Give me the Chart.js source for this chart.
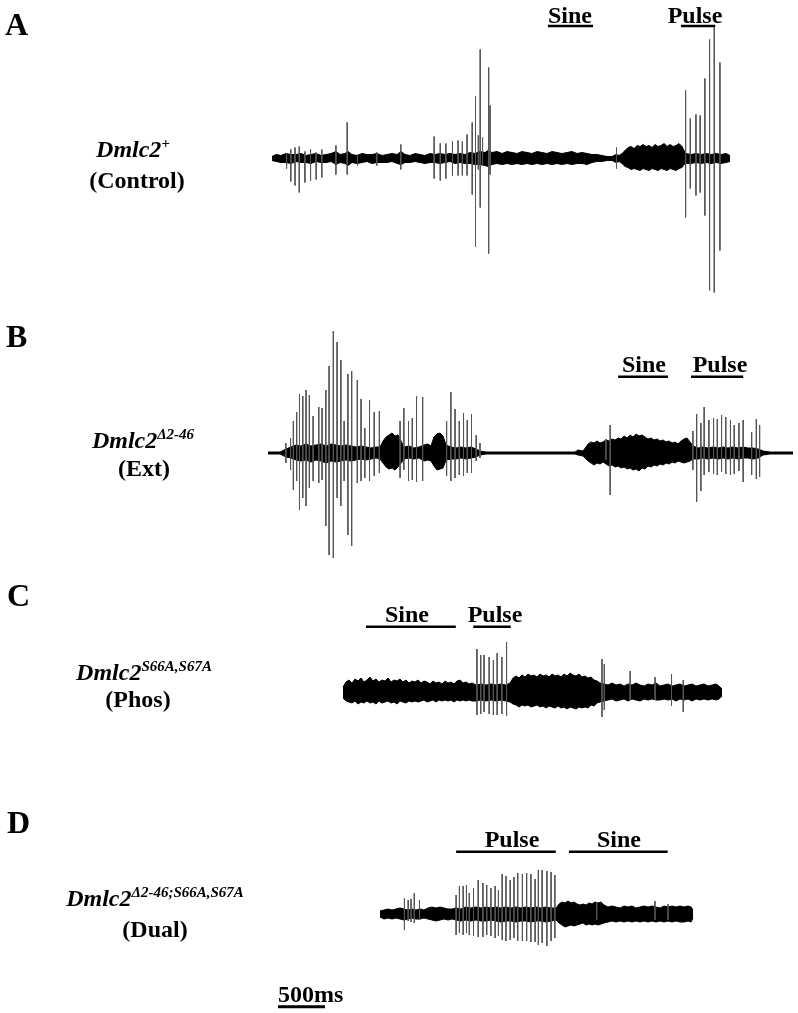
<!DOCTYPE html>
<html>
<head>
<meta charset="utf-8">
<script src="https://cdn.jsdelivr.net/npm/chart.js@4.4.0/dist/chart.umd.min.js"></script>
<style>
    body { margin: 0; background: #fff; }
    #page { position: relative; width: 798px; height: 1013px; overflow: hidden;
            font-family: "Liberation Serif", "Times New Roman", serif; font-weight: bold; color: #000; }
    canvas { position: absolute; left: 0; }
    .t { position: absolute; font-size: 24px; line-height: 24px; white-space: nowrap; }
    .c { width: 300px; text-align: center; }
    .letter { position: absolute; font-size: 32px; line-height: 32px; }
    sup { font-size: 15px; line-height: 0; vertical-align: 9px; }
</style>
</head>
<body>
<div id="page">
    <canvas id="chartA" width="798" height="320" style="top:0px"></canvas>
    <canvas id="chartB" width="798" height="250" style="top:320px"></canvas>
    <canvas id="chartC" width="798" height="220" style="top:570px"></canvas>
    <canvas id="chartD" width="798" height="223" style="top:790px"></canvas>

    <div class="letter" style="left:5px;top:8px">A</div>
    <div class="letter" style="left:6px;top:320px">B</div>
    <div class="letter" style="left:7px;top:579px">C</div>
    <div class="letter" style="left:7px;top:806px">D</div>

    <div class="t c" style="left:-17px;top:137px"><i>Dmlc2</i><sup>+</sup></div>
    <div class="t c" style="left:-13px;top:168px">(Control)</div>
    <div class="t c" style="left:-7px;top:428px"><i>Dmlc2<sup>Δ2-46</sup></i></div>
    <div class="t c" style="left:-6px;top:456px">(Ext)</div>
    <div class="t c" style="left:-6px;top:660px"><i>Dmlc2<sup>S66A,S67A</sup></i></div>
    <div class="t c" style="left:-12px;top:687px">(Phos)</div>
    <div class="t c" style="left:5px;top:886px"><i>Dmlc2<sup>Δ2-46;S66A,S67A</sup></i></div>
    <div class="t c" style="left:5px;top:917px">(Dual)</div>

    <div class="t c" style="left:420px;top:3px">Sine</div>
    <div class="t c" style="left:545px;top:3px">Pulse</div>
    <div class="t c" style="left:494px;top:352px">Sine</div>
    <div class="t c" style="left:570px;top:352px">Pulse</div>
    <div class="t c" style="left:257px;top:602px">Sine</div>
    <div class="t c" style="left:345px;top:602px">Pulse</div>
    <div class="t c" style="left:362px;top:827px">Pulse</div>
    <div class="t c" style="left:469px;top:827px">Sine</div>

    <div class="t" style="left:278px;top:982px">500ms</div>
</div>

<script>
// time in ms from the start of each recording, amplitude in arbitrary units

// A: Dmlc2+ (Control)
const spikeTimesA = [155, 200, 245, 290, 350, 410, 470, 530, 680, 800, 910, 1115, 1370, 1725, 1790, 1850, 1920, 1980, 2025, 2075, 2130, 2165, 2195, 2215, 2240, 2305, 2320, 3665, 4400, 4450, 4510, 4555, 4605, 4655, 4705, 4765];
const spikeTopsA = [5, 9, 11, 12, 7, 9, 6, 9, 13, 36, 4, 6, 14, 22, 15, 15, 17, 18, 17, 24, 36, 62, 23, 109, 21, 91, 53, 11, 68, 40, 44, 43, 80, 119, 131, 96];
const spikeBottomsA = [-10, -23, -27, -34, -24, -22, -21, -19, -16, -16, -7, -7, -11, -20, -22, -20, -17, -17, -17, -17, -36, -88, -11, -49, -7, -95, -16, -10, -59, -30, -37, -34, -57, -132, -134, -92];
const envTimesA = [
    0, 43, 96, 149, 202, 255, 309, 362, 415, 468,
    521, 575, 628, 681, 724, 777, 809, 851, 904, 958,
    1011, 1064, 1117, 1170, 1224, 1277, 1330, 1373, 1415, 1468,
    1522, 1575, 1628, 1681, 1734, 1788, 1841, 1894, 1947, 2000,
    2054, 2107, 2160, 2213, 2266, 2298, 2341, 2394, 2447, 2500,
    2554, 2607, 2660, 2713, 2766, 2820, 2873, 2926, 2979, 3032,
    3086, 3139, 3192, 3245, 3298, 3352, 3405, 3458, 3511, 3564,
    3618, 3660, 3692, 3724, 3756, 3788, 3820, 3852, 3884, 3916,
    3947, 3979, 4011, 4043, 4075, 4107, 4139, 4171, 4203, 4235,
    4267, 4299, 4330, 4362, 4384, 4405, 4458, 4511, 4565, 4618,
    4671, 4724, 4777, 4830, 4873];
const envUpperA = [
    2, 4, 3, 5, 4, 4, 5, 3, 4, 5,
    3, 4, 5, 7, 4, 5, 7, 4, 3, 5,
    4, 4, 5, 3, 4, 5, 4, 7, 4, 3,
    5, 4, 3, 5, 4, 5, 4, 5, 4, 5,
    4, 6, 5, 7, 6, 8, 6, 7, 5, 7,
    6, 5, 7, 6, 5, 7, 6, 5, 7, 6,
    5, 6, 7, 5, 6, 5, 4, 4, 3, 2,
    2, 4, 3, 5, 8, 11, 12, 10, 13, 12,
    14, 12, 13, 11, 14, 12, 13, 15, 12, 14,
    12, 13, 15, 12, 8, 5, 4, 5, 4, 5,
    4, 5, 4, 5, 3];
const envLowerA = [
    -2, -3, -4, -4, -5, -3, -4, -4, -5, -3,
    -4, -4, -3, -6, -4, -5, -7, -4, -5, -4,
    -3, -5, -4, -4, -4, -3, -5, -6, -4, -4,
    -3, -4, -5, -4, -4, -5, -4, -3, -5, -4,
    -5, -5, -6, -6, -7, -8, -6, -5, -6, -5,
    -6, -5, -6, -5, -6, -5, -6, -5, -6, -5,
    -6, -5, -6, -5, -5, -6, -4, -3, -3, -2,
    -2, -4, -3, -5, -8, -9, -11, -10, -11, -12,
    -10, -11, -12, -10, -11, -12, -10, -11, -12, -10,
    -11, -12, -10, -9, -6, -5, -5, -4, -5, -4,
    -5, -4, -5, -4, -3];
const sineA = [2935, 3415];
const pulseA = [4350, 4715];

// B: Dmlc2 d2-46 (Ext)
const spikeTimesB = [190, 240, 270, 305, 335, 370, 405, 440, 480, 540, 575, 615, 650, 695, 735, 775, 810, 850, 890, 950, 990, 1030, 1080, 1130, 1185, 1405, 1445, 1495, 1535, 1580, 1645, 1900, 1945, 1990, 2035, 2080, 2120, 2165, 2215, 2255, 3595, 3640, 4520, 4560, 4605, 4640, 4690, 4740, 4780, 4825, 4870, 4920, 4960, 5010, 5055, 5145, 5195, 5230];
const spikeTopsB = [10, 15, 32, 41, 59, 57, 63, 58, 37, 46, 45, 63, 87, 122, 111, 93, 32, 79, 82, 73, 54, 25, 53, 41, 42, 32, 45, 32, 35, 57, 56, 32, 61, 44, 32, 40, 33, 39, 18, 10, 14, 28, 22, 39, 30, 46, 33, 35, 34, 38, 36, 33, 28, 30, 33, 21, 34, 28];
const spikeBottomsB = [-10, -17, -37, -28, -57, -45, -53, -35, -28, -30, -27, -73, -102, -105, -45, -53, -28, -82, -93, -30, -28, -25, -28, -23, -20, -25, -17, -28, -27, -29, -28, -23, -28, -25, -22, -23, -20, -20, -8, -5, -7, -42, -17, -49, -38, -22, -19, -21, -22, -19, -21, -22, -21, -18, -29, -22, -26, -24];
const envTimesB = [
    0, 128, 192, 245, 298, 351, 404, 458, 511, 564,
    617, 670, 724, 777, 830, 883, 936, 990, 1043, 1096,
    1149, 1192, 1224, 1256, 1287, 1319, 1351, 1383, 1415, 1447,
    1500, 1553, 1607, 1660, 1702, 1734, 1766, 1798, 1830, 1862,
    1894, 1947, 2000, 2054, 2107, 2160, 2213, 2256, 2320, 2468,
    2788, 3107, 3266, 3298, 3352, 3405, 3437, 3469, 3501, 3532,
    3564, 3596, 3628, 3660, 3692, 3724, 3756, 3788, 3820, 3852,
    3884, 3916, 3947, 3979, 4011, 4043, 4075, 4107, 4139, 4171,
    4203, 4235, 4267, 4299, 4330, 4362, 4394, 4426, 4458, 4490,
    4522, 4575, 4628, 4682, 4735, 4788, 4841, 4894, 4948, 5001,
    5054, 5107, 5160, 5214, 5267, 5341, 5448, 5586];
const envUpperB = [
    1, 1, 4, 6, 8, 7, 9, 7, 8, 9,
    7, 9, 8, 7, 8, 7, 6, 7, 6, 5,
    6, 6, 12, 16, 18, 20, 17, 18, 12, 6,
    7, 5, 6, 8, 9, 7, 16, 19, 20, 17,
    8, 6, 5, 6, 5, 6, 4, 2, 1, 1,
    1, 1, 1, 3, 2, 9, 11, 10, 12, 10,
    11, 13, 12, 14, 13, 15, 14, 17, 15, 18,
    16, 19, 17, 18, 16, 14, 15, 13, 14, 12,
    13, 11, 12, 10, 11, 9, 12, 14, 15, 11,
    7, 5, 6, 5, 6, 5, 6, 5, 6, 5,
    6, 5, 5, 4, 2, 1, 1, 1];
const envLowerB = [
    -1, -1, -4, -5, -7, -8, -7, -9, -7, -8,
    -10, -8, -9, -8, -7, -8, -7, -6, -7, -6,
    -5, -6, -10, -14, -16, -15, -17, -14, -10, -6,
    -5, -6, -5, -8, -7, -8, -13, -17, -16, -15,
    -7, -6, -6, -5, -6, -5, -4, -2, -1, -1,
    -1, -1, -1, -2, -3, -8, -10, -12, -10, -11,
    -9, -11, -13, -12, -14, -13, -15, -14, -16, -15,
    -17, -16, -18, -15, -16, -13, -14, -12, -13, -11,
    -12, -10, -11, -9, -10, -8, -9, -10, -9, -8,
    -6, -6, -5, -6, -5, -6, -5, -6, -5, -6,
    -5, -5, -6, -5, -2, -1, -1, -1];
const sineB = [3725, 4255];
const pulseB = [4500, 5055];

// C: Dmlc2 S66A,S67A (Phos)
const spikeTimesC = [1425, 1465, 1500, 1555, 1600, 1640, 1690, 1740, 2755, 2780, 3055, 3320, 3495, 3620];
const spikeTopsC = [43, 37, 37, 35, 32, 39, 35, 50, 33, 28, 21, 15, 18, 12];
const spikeBottomsC = [-23, -22, -20, -22, -23, -23, -22, -24, -25, -18, -8, -8, -14, -20];
const envTimesC = [
    0, 32, 64, 96, 128, 160, 192, 223, 255, 287,
    319, 351, 383, 415, 447, 479, 511, 543, 575, 606,
    638, 670, 702, 734, 766, 798, 830, 862, 894, 926,
    958, 990, 1021, 1053, 1085, 1117, 1149, 1181, 1213, 1245,
    1277, 1309, 1341, 1373, 1415, 1468, 1522, 1575, 1628, 1681,
    1734, 1777, 1809, 1841, 1873, 1905, 1936, 1968, 2000, 2032,
    2064, 2096, 2128, 2160, 2192, 2224, 2256, 2288, 2320, 2351,
    2383, 2415, 2447, 2479, 2511, 2543, 2575, 2607, 2639, 2671,
    2703, 2734, 2777, 2820, 2862, 2905, 2947, 2990, 3032, 3075,
    3118, 3160, 3203, 3245, 3288, 3330, 3373, 3415, 3458, 3501,
    3543, 3586, 3628, 3671, 3713, 3756, 3798, 3841, 3884, 3926,
    3969, 4001, 4033];
const envUpperC = [
    5, 10, 12, 9, 13, 11, 14, 10, 12, 15,
    11, 13, 10, 12, 11, 14, 10, 12, 11, 13,
    10, 12, 9, 11, 10, 12, 9, 11, 10, 8,
    11, 9, 10, 8, 11, 9, 10, 8, 11, 12,
    9, 10, 8, 9, 7, 8, 7, 8, 7, 8,
    7, 9, 14, 16, 14, 17, 15, 18, 16, 17,
    15, 18, 16, 17, 15, 18, 16, 17, 15, 18,
    16, 19, 17, 16, 18, 15, 16, 14, 15, 12,
    11, 9, 8, 7, 9, 7, 8, 6, 8, 7,
    9, 7, 6, 8, 7, 9, 6, 7, 8, 6,
    7, 8, 6, 7, 8, 6, 7, 8, 6, 7,
    8, 6, 3];
const envLowerC = [
    -6, -9, -10, -11, -9, -12, -10, -11, -9, -11,
    -10, -12, -9, -11, -10, -9, -11, -10, -12, -9,
    -10, -11, -9, -10, -9, -10, -9, -8, -10, -9,
    -8, -10, -8, -9, -8, -9, -8, -10, -8, -9,
    -8, -9, -8, -9, -9, -8, -9, -8, -9, -8,
    -9, -10, -12, -13, -15, -13, -14, -13, -15, -14,
    -13, -15, -14, -16, -14, -15, -16, -14, -16, -15,
    -17, -15, -16, -17, -15, -16, -15, -16, -13, -14,
    -11, -10, -9, -8, -7, -9, -8, -7, -9, -7,
    -8, -9, -7, -8, -7, -8, -8, -7, -8, -7,
    -9, -7, -8, -7, -9, -7, -8, -7, -8, -7,
    -8, -7, -4];
const sineC = [245, 1200];
const pulseC = [1385, 1785];

// D: Dmlc2 d2-46;S66A,S67A (Dual)
const spikeTimesD = [260, 300, 330, 365, 420, 810, 845, 885, 920, 950, 995, 1045, 1095, 1135, 1180, 1225, 1260, 1300, 1340, 1385, 1425, 1465, 1515, 1560, 1605, 1650, 1685, 1725, 1775, 1820, 1860, 2305, 2925, 3065];
const spikeTopsD = [16, 14, 15, 21, 14, 19, 28, 28, 29, 21, 26, 34, 31, 29, 26, 28, 24, 40, 38, 34, 37, 41, 40, 41, 40, 35, 44, 44, 43, 42, 39, 12, 13, 10];
const spikeBottomsD = [-16, -7, -8, -9, -6, -21, -19, -21, -19, -21, -22, -23, -23, -21, -22, -24, -22, -26, -27, -26, -24, -27, -27, -27, -28, -28, -31, -29, -32, -27, -24, -6, -6, -6];
const envTimesD = [
    0, 43, 85, 128, 170, 213, 255, 298, 340, 383,
    426, 468, 511, 553, 596, 638, 681, 724, 766, 809,
    862, 915, 968, 1021, 1075, 1128, 1181, 1234, 1287, 1341,
    1394, 1447, 1500, 1553, 1607, 1660, 1713, 1766, 1819, 1873,
    1905, 1936, 1968, 2000, 2032, 2064, 2096, 2128, 2160, 2192,
    2224, 2256, 2288, 2320, 2351, 2383, 2426, 2468, 2511, 2554,
    2596, 2639, 2681, 2724, 2766, 2809, 2852, 2894, 2937, 2979,
    3022, 3064, 3107, 3149, 3192, 3235, 3277, 3309, 3330];
const envUpperD = [
    3, 4, 5, 4, 5, 6, 5, 4, 5, 4,
    5, 4, 6, 7, 6, 7, 6, 5, 5, 6,
    5, 7, 6, 7, 6, 7, 6, 7, 6, 7,
    6, 7, 6, 7, 6, 7, 6, 7, 6, 6,
    10, 12, 11, 13, 11, 12, 10, 9, 10, 9,
    11, 10, 12, 11, 12, 9, 7, 8, 7, 6,
    8, 7, 8, 6, 7, 8, 7, 8, 7, 6,
    8, 7, 8, 7, 8, 7, 8, 7, 4];
const envLowerD = [
    -3, -5, -4, -5, -4, -5, -6, -5, -4, -5,
    -5, -4, -5, -6, -7, -6, -5, -6, -5, -6,
    -7, -6, -7, -6, -7, -7, -6, -7, -8, -7,
    -7, -8, -7, -7, -8, -7, -7, -8, -7, -6,
    -9, -11, -13, -12, -11, -12, -11, -10, -9, -11,
    -10, -11, -10, -11, -10, -9, -8, -7, -8, -7,
    -8, -7, -8, -7, -8, -7, -8, -7, -8, -7,
    -8, -7, -8, -7, -8, -8, -7, -8, -4];
const pulseD = [810, 1870];
const sineD = [2010, 3060];

const scaleBarMs = 500;

// layout: the 500 ms scale bar is 47 px wide on the page
const MS_PER_PX = 500 / 47;
const PAGE_WIDTH = 798;

function toPoints(times, values) {
    return times.map((t, i) => ({ x: t, y: values[i] }));
}

function spikePoints(times, tops, bottoms) {
    const pts = [];
    times.forEach((t, i) => {
        pts.push({ x: t, y: tops[i] }, { x: t, y: bottoms[i] }, { x: t, y: null });
    });
    return pts;
}

// draws the Sine / Pulse bars and the time scale bar
const segmentPlugin = {
    id: "segments",
    afterDatasetsDraw(chart, args, opts) {
        const ctx = chart.ctx;
        const x = chart.scales.x;
        const y = chart.scales.y;
        const base = y.getPixelForValue(0);
        ctx.save();
        ctx.strokeStyle = "#000";
        ctx.lineWidth = 2.5;
        (opts.ranges || []).forEach(r => {
            ctx.beginPath();
            ctx.moveTo(x.getPixelForValue(r[0]), base - opts.lift);
            ctx.lineTo(x.getPixelForValue(r[1]), base - opts.lift);
            ctx.stroke();
        });
        if (opts.scaleBar) {
            const w = x.getPixelForValue(opts.scaleBar.ms) - x.getPixelForValue(0);
            ctx.lineWidth = 3;
            ctx.beginPath();
            ctx.moveTo(opts.scaleBar.left, base + opts.scaleBar.drop);
            ctx.lineTo(opts.scaleBar.left + w, base + opts.scaleBar.drop);
            ctx.stroke();
        }
        ctx.restore();
    }
};

function makePanel(id, p) {
    const canvas = document.getElementById(id);
    const h = canvas.height;
    return new Chart(canvas, {
        type: "line",
        data: {
            datasets: [
                {
                    data: spikePoints(p.spikeTimes, p.spikeTops, p.spikeBottoms),
                    borderColor: "#555",
                    borderWidth: 1,
                    pointRadius: 0,
                    fill: false,
                    spanGaps: false,
                },
                {
                    data: toPoints(p.envTimes, p.envUpper),
                    borderColor: "#000",
                    backgroundColor: "#000",
                    borderWidth: 1,
                    pointRadius: 0,
                    fill: "+1",
                },
                {
                    data: toPoints(p.envTimes, p.envLower),
                    borderColor: "#000",
                    borderWidth: 1,
                    pointRadius: 0,
                    fill: false,
                },
            ],
        },
        options: {
            responsive: false,
            animation: false,
            devicePixelRatio: 1,
            layout: { padding: 0 },
            elements: { line: { tension: 0 } },
            scales: {
                x: { type: "linear", display: false, min: -p.left * MS_PER_PX, max: (PAGE_WIDTH - p.left) * MS_PER_PX },
                y: { type: "linear", display: false, min: -(h - p.base), max: p.base },
            },
            plugins: {
                legend: { display: false },
                tooltip: { enabled: false },
                segments: { ranges: p.ranges, lift: p.lift, scaleBar: p.scaleBar },
            },
        },
        plugins: [segmentPlugin],
    });
}

makePanel("chartA", {
    spikeTimes: spikeTimesA, spikeTops: spikeTopsA, spikeBottoms: spikeBottomsA,
    envTimes: envTimesA, envUpper: envUpperA, envLower: envLowerA,
    ranges: [sineA, pulseA], left: 272, base: 158.5, lift: 132.5,
});
makePanel("chartB", {
    spikeTimes: spikeTimesB, spikeTops: spikeTopsB, spikeBottoms: spikeBottomsB,
    envTimes: envTimesB, envUpper: envUpperB, envLower: envLowerB,
    ranges: [sineB, pulseB], left: 268, base: 133, lift: 76.3,
});
makePanel("chartC", {
    spikeTimes: spikeTimesC, spikeTops: spikeTopsC, spikeBottoms: spikeBottomsC,
    envTimes: envTimesC, envUpper: envUpperC, envLower: envLowerC,
    ranges: [sineC, pulseC], left: 343, base: 122, lift: 65.3,
});
makePanel("chartD", {
    spikeTimes: spikeTimesD, spikeTops: spikeTopsD, spikeBottoms: spikeBottomsD,
    envTimes: envTimesD, envUpper: envUpperD, envLower: envLowerD,
    ranges: [pulseD, sineD], left: 380, base: 124, lift: 62.3,
    scaleBar: { ms: scaleBarMs, left: 278, drop: 92.7 },
});
</script>
</body>
</html>
